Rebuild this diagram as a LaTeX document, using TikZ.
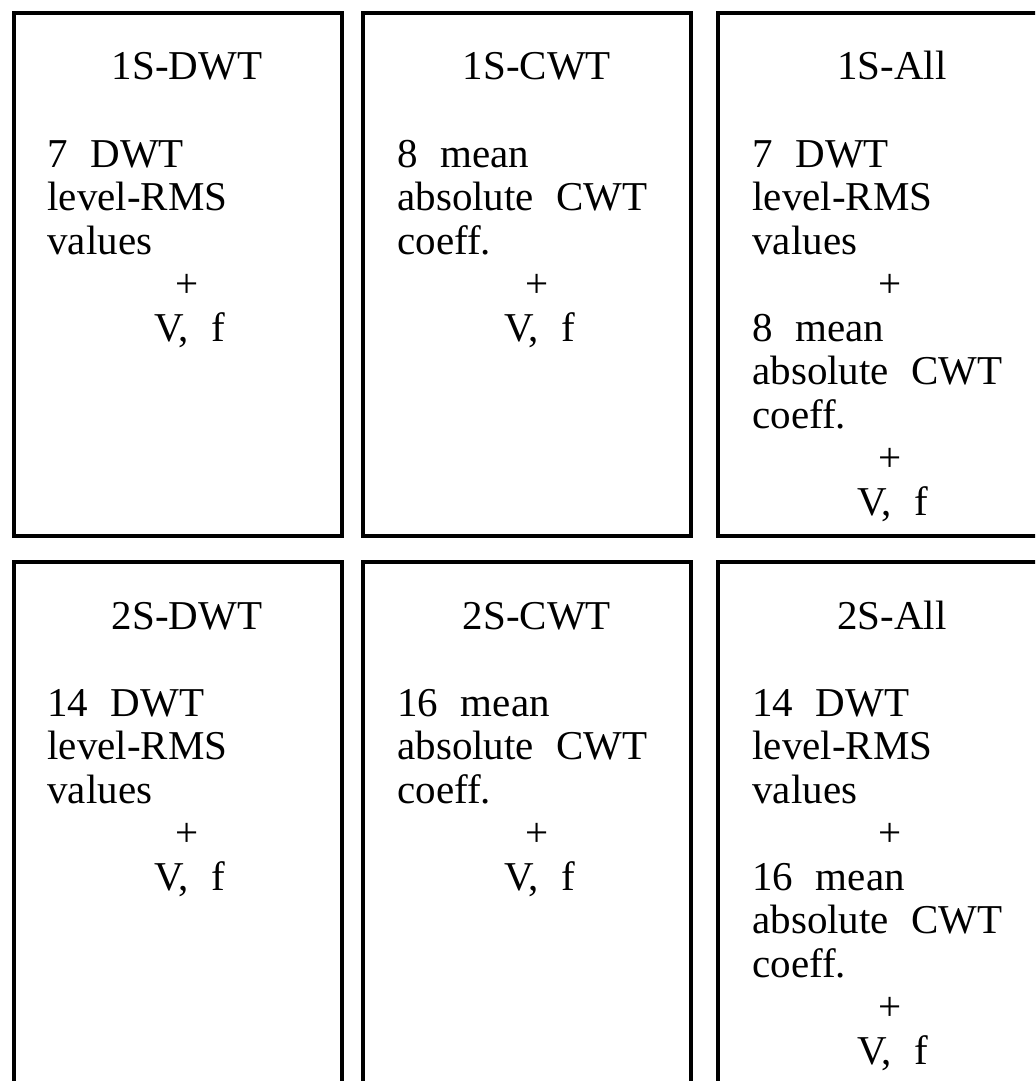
\documentclass[tikz,border=0pt]{standalone}
\usepackage{fontspec}
\setmainfont{Liberation Serif}
\begin{document}
\begin{tikzpicture}[x=0.5pt,y=-0.5pt,
  box/.style={line width=1.75pt, line join=miter},
  txt/.style={inner sep=0pt, font={\fontsize{20.5}{21.75}\selectfont\spaceskip=0.55em\relax}},
  ln/.style={txt, anchor=base west},
  ctr/.style={txt, anchor=base}]
\useasboundingbox (0,0) rectangle (1035,1081);
\clip (0,0) rectangle (1035,1081);
\fill[white] (0,0) rectangle (1035,1081);

% ---- row 1 boxes
\draw[box] (14,13) rectangle (342,536);
\draw[box] (363,13) rectangle (691,536);
\draw[box] (718,13) rectangle (1070,536);
% ---- row 2 boxes (open at the bottom edge of the picture)
\draw[box] (14,1100) -- (14,562) -- (342,562) -- (342,1100);
\draw[box] (363,1100) -- (363,562) -- (691,562) -- (691,1100);
\draw[box] (718,1100) -- (718,562) -- (1070,562) -- (1070,1100);

% ================= row 1 =================
% box 1S-DWT
\node[ctr] (t11) at (187,80) {1S-DWT};
\node[ln] (a11) at (47,167) {7 DWT};
\node[ln] (b11) at (47,210.5) {level-RMS};
\node[ln] (c11) at (47,254) {values};
\node[ctr] (p11) at (187,297.5) {+};
\node[ctr] (v11) at (190,341) {V, f};
% box 1S-CWT
\node[ctr] (t12) at (537,80) {1S-CWT};
\node[ln] (a12) at (397,167) {8 mean};
\node[ln] (b12) at (397,210.5) {absolute CWT};
\node[ln] (c12) at (397,254) {coeff.};
\node[ctr] (p12) at (537,297.5) {+};
\node[ctr] (v12) at (540,341) {V, f};
% box 1S-All
\node[ctr] (t13) at (892,80) {1S-All};
\node[ln] (a13) at (752,167) {7 DWT};
\node[ln] (b13) at (752,210.5) {level-RMS};
\node[ln] (c13) at (752,254) {values};
\node[ctr] (p13) at (890,297.5) {+};
\node[ln] (d13) at (752,341) {8 mean};
\node[ln] (e13) at (752,384.5) {absolute CWT};
\node[ln] (f13) at (752,428) {coeff.};
\node[ctr] (q13) at (890,471.5) {+};
\node[ctr] (v13) at (893,515) {V, f};

% ================= row 2 =================
% box 2S-DWT
\node[ctr] (t21) at (187,629) {2S-DWT};
\node[ln] (a21) at (47,716) {14 DWT};
\node[ln] (b21) at (47,759.5) {level-RMS};
\node[ln] (c21) at (47,803) {values};
\node[ctr] (p21) at (187,846.5) {+};
\node[ctr] (v21) at (190,890) {V, f};
% box 2S-CWT
\node[ctr] (t22) at (537,629) {2S-CWT};
\node[ln] (a22) at (397,716) {16 mean};
\node[ln] (b22) at (397,759.5) {absolute CWT};
\node[ln] (c22) at (397,803) {coeff.};
\node[ctr] (p22) at (537,846.5) {+};
\node[ctr] (v22) at (540,890) {V, f};
% box 2S-All
\node[ctr] (t23) at (892,629) {2S-All};
\node[ln] (a23) at (752,716) {14 DWT};
\node[ln] (b23) at (752,759.5) {level-RMS};
\node[ln] (c23) at (752,803) {values};
\node[ctr] (p23) at (890,846.5) {+};
\node[ln] (d23) at (752,890) {16 mean};
\node[ln] (e23) at (752,933.5) {absolute CWT};
\node[ln] (f23) at (752,977) {coeff.};
\node[ctr] (q23) at (890,1020.5) {+};
\node[ctr] (v23) at (893,1064) {V, f};
\end{tikzpicture}
\end{document}
